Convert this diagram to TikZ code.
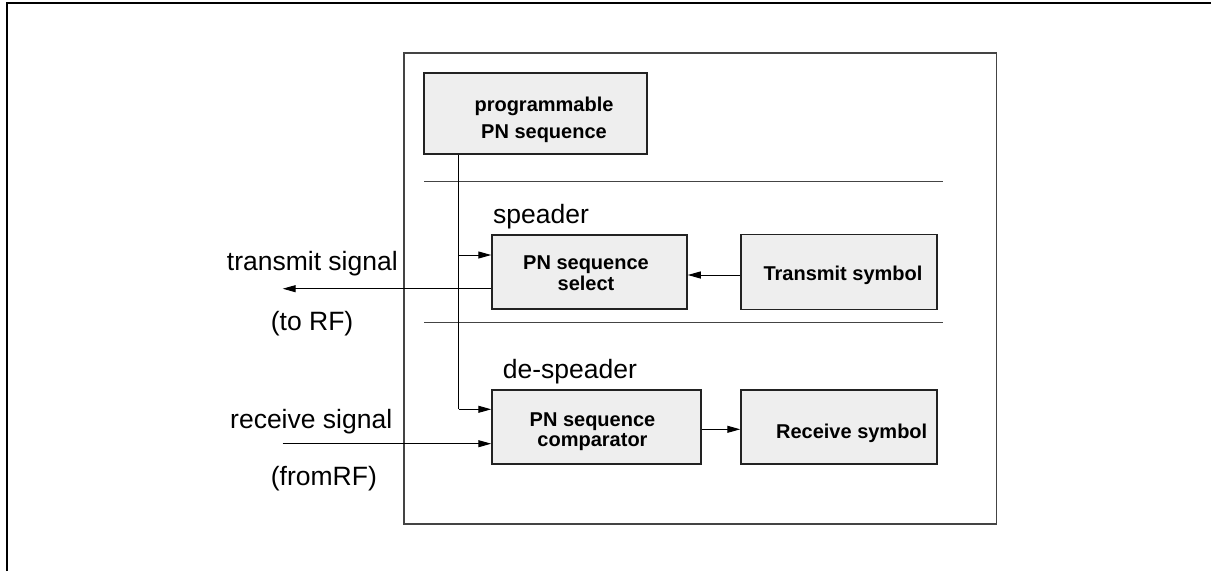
\documentclass[tikz,border=0pt]{standalone}
\usepackage{fontspec}
\setmainfont{Liberation Sans}
\usetikzlibrary{arrows.meta}
\definecolor{boxfill}{HTML}{EEEEEE}
\definecolor{boxline}{HTML}{222222}
\definecolor{frameline}{HTML}{444444}
\tikzset{
  blk/.style={draw=boxline, line width=1.5pt, fill=boxfill, inner sep=0pt},
  blktext/.style={font=\fontsize{20}{20.5}\selectfont\bfseries, align=center, inner sep=0pt},
  lbl/.style={font=\fontsize{26.5}{30}\selectfont, inner sep=0pt, anchor=base west},
  conn/.style={line width=1pt, draw=black},
  arr/.style={conn, -{Triangle[length=13pt,width=7pt]}},
  sep/.style={line width=1.2pt, draw=frameline},
}
\begin{document}
\begin{tikzpicture}[x=1pt,y=-1pt]
\useasboundingbox (0,0) rectangle (1211,571);
% outer frame (top and left edges)
\draw[line width=2.2pt] (7,571) -- (7,3) -- (1211,3);
% inner frame
\draw[line width=1.3pt, draw=frameline] (404,53) rectangle (996.5,524);
% separators
\draw[sep] (424,181.3) -- (943,181.3);
\draw[sep] (424,322.7) -- (943,322.7);
% blocks
\node[blk, minimum width=223pt, minimum height=81pt] (prog) at (535.5,113.5) {};
\node[blk, minimum width=195pt, minimum height=74pt] (sel) at (589.5,272) {};
\node[blk, minimum width=196pt, minimum height=75pt] (tx) at (839,272) {};
\node[blk, minimum width=209pt, minimum height=74pt] (comp) at (596.5,427) {};
\node[blk, minimum width=196pt, minimum height=74pt] (rx) at (839,427) {};
% block texts
\node[blktext, font=\fontsize{20}{27}\selectfont\bfseries] (progt) at (544,120) {programmable\\PN sequence};
\node[blktext, font=\fontsize{20}{20.7}\selectfont\bfseries] (selt) at (586,273.1) {PN sequence\\select};
\node[blktext, font=\fontsize{20}{20}\selectfont\bfseries] (compt) at (592.5,431.5) {PN sequence\\comparator};
\node[blktext, anchor=base] (txt) at (843,280) {Transmit symbol};
\node[blktext, anchor=base] (rxt) at (851.7,438.3) {Receive symbol};
% labels
\node[lbl] (lsp) at (493,223.3) {speader};
\node[lbl] (ldsp) at (502.7,378.3) {de-speader};
\node[lbl] (ltx) at (226.7,270) {transmit signal};
\node[lbl] (ltorf) at (270.7,330) {(to RF)};
\node[lbl] (lrx) at (230,428.3) {receive signal};
\node[lbl] (lfrf) at (270.7,485) {(fromRF)};
% connectors
\coordinate (j1) at (458.7,255);
\coordinate (j2) at (458.7,409.3);
\coordinate (txend) at (282.7,288.7);
\coordinate (rxstart) at (282.7,443.7);
\draw[conn] (prog.south -| j1) -- (j2);
\draw[arr] (j1) -- (sel.west |- j1);
\draw[arr] (j2) -- (comp.west |- j2);
\draw[arr] (sel.west |- txend) -- (txend);
\draw[arr] (tx.west |- 0,275) -- (sel.east |- 0,275);
\draw[arr] (comp.east |- 0,429.3) -- (rx.west |- 0,429.3);
\draw[arr] (rxstart) -- (comp.west |- rxstart);
\end{tikzpicture}
\end{document}
